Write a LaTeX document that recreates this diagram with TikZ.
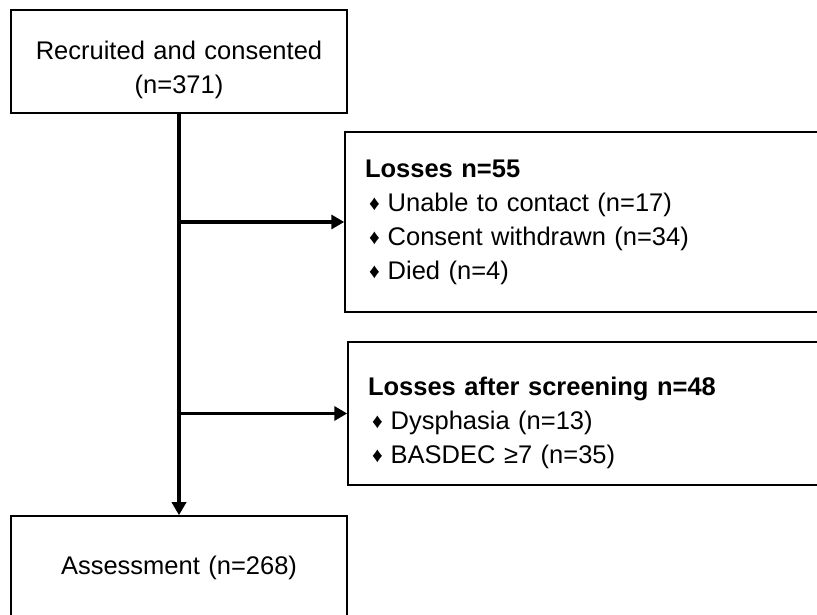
\documentclass[tikz,border=0pt]{standalone}
\usepackage{fontspec}
\setmainfont{Liberation Sans}
\usetikzlibrary{arrows.meta}

\begin{document}
\begin{tikzpicture}[x=1pt, y=1pt]
    % Define styles
    \tikzset{
        box/.style={
            draw,
            line width=1.5pt,
            font=\fontsize{25.5}{34}\selectfont,
            align=center,
            text width=320pt
        },
        listbox/.style={
            box,
            align=left,
            inner xsep=20pt,
            text width=520pt,
            minimum width=560pt
        },
        flow/.style={
            line width=3.6pt,
            -{Triangle[length=13pt, width=14pt]}
        }
    }
    \newcommand{\itm}{\hspace*{4pt}{\fontsize{21}{21}\selectfont\raisebox{1pt}{♦}}\hspace{8pt}}

    % Canvas
    \useasboundingbox (0,0) rectangle (817,615);
    \clip (0,0) rectangle (817,615);

    % Main column
    \node[box, minimum width=336pt, minimum height=103pt] (recruit) at (179,553.5)
        {\rule{0pt}{35pt}Recruited and consented\\(n=371)};
    \node[box, minimum width=336pt, minimum height=104pt] (assess) at (179,47)
        {Assessment (n=268)};

    % Side boxes
    \node[listbox, minimum height=180pt] (losses) at (625,393)
        {\textbf{Losses n=55}\\
         \itm Unable to contact (n=17)\\
         \itm Consent withdrawn (n=34)\\
         \itm Died (n=4)};
    \node[listbox, minimum height=143pt] (screen) at (628,201.5)
        {\rule{0pt}{37pt}\textbf{Losses after screening n=48}\\
         \itm Dysphasia (n=13)\\
         \itm BASDEC ≥7 (n=35)};

    % Connectors
    \draw[flow] (recruit.south) -- (assess.north);
    \draw[flow] (recruit.south |- losses.west) -- (losses.west);
    \draw[flow] (recruit.south |- screen.west) -- (screen.west);
\end{tikzpicture}
\end{document}
